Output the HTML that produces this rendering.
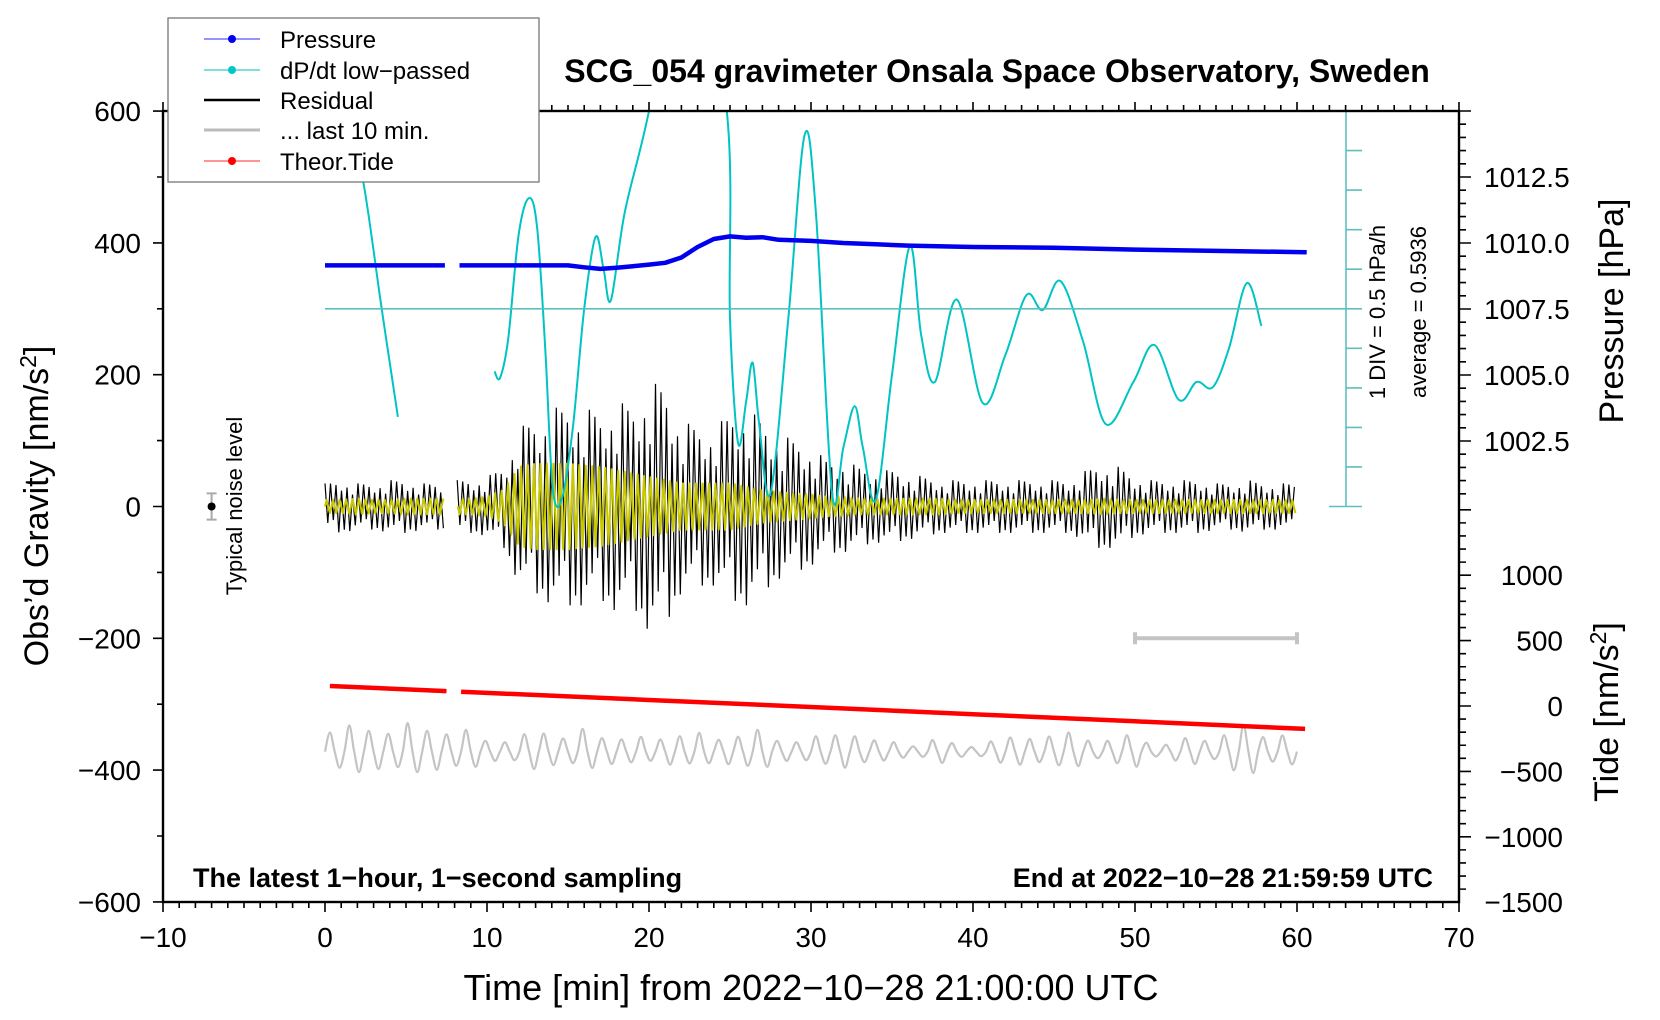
<!DOCTYPE html>
<html><head><meta charset="utf-8"><style>
html,body{margin:0;padding:0;background:#fff;}
svg{display:block;font-family:"Liberation Sans",sans-serif;}
</style></head><body>
<svg id="chart" width="1660" height="1020" viewBox="0 0 1660 1020">
<g id="marks"></g>
<g id="axes"></g>
<rect x="168" y="18" width="371" height="164" fill="#fff" stroke="#777" stroke-width="1.3"/>
<g font-size="24">
 <g><line x1="204" y1="39" x2="260" y2="39" stroke="#5555ff" stroke-width="1.2"/><circle cx="232" cy="39" r="4" fill="#0000ee"/><text x="280" y="48">Pressure</text></g>
 <g><line x1="204" y1="70" x2="260" y2="70" stroke="#33cccc" stroke-width="1.2"/><circle cx="232" cy="70" r="4" fill="#00c8c8"/><text x="280" y="79">dP/dt low−passed</text></g>
 <g><line x1="204" y1="100" x2="260" y2="100" stroke="#000" stroke-width="2.5"/><text x="280" y="109">Residual</text></g>
 <g><line x1="204" y1="130" x2="260" y2="130" stroke="#bbb" stroke-width="3"/><text x="280" y="139">... last 10 min.</text></g>
 <g><line x1="204" y1="161" x2="260" y2="161" stroke="#ff5555" stroke-width="1.2"/><circle cx="232" cy="161" r="4" fill="#ff0000"/><text x="280" y="170">Theor.Tide</text></g>
</g>
<text x="997" y="82" font-size="32" font-weight="bold" text-anchor="middle">SCG_054 gravimeter Onsala Space Observatory, Sweden</text>
<text transform="translate(48,506) rotate(-90)" font-size="34" text-anchor="middle">Obs’d Gravity [nm/s<tspan dy="-12" font-size="23">2</tspan><tspan dy="12">]</tspan></text>
<text transform="translate(1623,311) rotate(-90)" font-size="34" text-anchor="middle">Pressure [hPa]</text>
<text transform="translate(1618,712) rotate(-90)" font-size="34" text-anchor="middle">Tide [nm/s<tspan dy="-12" font-size="23">2</tspan><tspan dy="12">]</tspan></text>
<text transform="translate(1385,312) rotate(-90)" font-size="22" text-anchor="middle">1 DIV = 0.5 hPa/h</text>
<text transform="translate(1426,312) rotate(-90)" font-size="22" text-anchor="middle">average = 0.5936</text>
<text transform="translate(242,506) rotate(-90)" font-size="22" text-anchor="middle">Typical noise level</text>
<text x="193" y="887" font-size="27" font-weight="bold">The latest 1−hour, 1−second sampling</text>
<text x="1433" y="887" font-size="27" font-weight="bold" text-anchor="end">End at 2022−10−28 21:59:59 UTC</text>
<text x="811" y="1000" font-size="36" text-anchor="middle">Time [min] from 2022−10−28 21:00:00 UTC</text>
</svg>
<script>
// ---- data ----
const blackEnv=[35,40,35,35,40,40,35,35,40,40,45,60,120,130,150,150,150,140,160,150,190,180,130,120,120,140,150,130,110,100,90,70,70,60,55,55,50,45,40,40,40,40,40,40,40,40,40,55,65,60,45,40,40,40,40,35,35,40,35,35,35];
const yellowEnv=[10,10,12,10,10,12,12,12,12,12,15,25,60,65,65,65,62,60,55,50,45,40,35,35,35,35,30,25,22,20,18,15,14,12,12,12,12,12,12,10,10,10,10,10,10,10,10,10,12,10,10,10,10,10,10,10,10,10,10,10,10];
const grayEnv=[40,45,35,30,40,45,30,35,40,30,15,20,25,30,25,30,35,20,25,30,15,20,35,30,15,25,40,30,15,20,25,20,30,35,15,15,10,15,20,10,10,15,20,25,30,20,30,25,15,20,30,15,10,20,25,20,30,45,30,25,20];
const motif=[1,0.7,0.95,0.55,0.85,1,0.6,0.9,0.75,1,0.5,0.8];
const pressMin=[0,7.4,8.3,15,16,17,18,19,20,21,22,23,24,25,26,27,28,30,32,34,36,40,45,50,55,60.6];
const pressVal=[1009.15,1009.15,1009.15,1009.15,1009.08,1009.02,1009.06,1009.12,1009.18,1009.25,1009.45,1009.85,1010.15,1010.25,1010.2,1010.22,1010.12,1010.08,1010.0,1009.95,1009.9,1009.85,1009.82,1009.75,1009.7,1009.65];
const cyanSeg1Min=[0.8,1.5,2.35,3.5,4.5];
const cyanSeg1Val=[640,560,494,300,136];
const cyanSeg2Min=[10.46,10.8,11.3,11.96,12.6,13.1,13.6,14.05,14.6,15.3,16.0,16.7,17.2,17.65,18.5,20,22.4,24.8,25.0,25.5,26.0,26.4,26.8,27.5,28.6,29.6,30.3,31.3,32.0,32.7,33.2,34.0,35.0,36.1,36.8,37.65,39.0,40.6,42.0,43.3,44.3,45.4,46.8,48.2,49.9,51.2,52.7,53.8,54.8,55.8,56.9,57.8];
const cyanSeg2Val=[205,195,253,414,468,422,238,29,10,120,300,409,360,313,446,600,900,600,285,96,160,218,125,20,285,563,446,20,90,152,90,10,200,395,260,189,314,157,230,321,298,342,250,125,189,245,162,189,181,240,339,274];
const tideMin=[0.3,7.5,8.4,20,30,40,50,60.5];
const tideVal=[153,114,109,46,-8,-63,-117,-175];
const xTicks=[-10,0,10,20,30,40,50,60,70];
const yTicks=[-600,-400,-200,0,200,400,600];
const pTicks=[1002.5,1005.0,1007.5,1010.0,1012.5];
const tTicks=[-1500,-1000,-500,0,500,1000];
// ---- scales ----
const X=m=>325+m*16.2, Yg=g=>506.5-g*0.659, Yp=p=>243-(p-1010)*26.4, Yt=t=>706-t*0.1308;
const NS='http://www.w3.org/2000/svg';
const marks=document.getElementById('marks'), axes=document.getElementById('axes');
function mk(tag,attrs,parent){const e=document.createElementNS(NS,tag);for(const k in attrs)e.setAttribute(k,attrs[k]);(parent||marks).appendChild(e);return e;}
function env(arr,m){const i=Math.min(Math.floor(m),arr.length-2),f=m-i;return arr[i]*(1-f)+arr[i+1]*f;}
function inGap(m){return m>7.35&&m<8.1;}
function smoothPts(pts){let d='M'+pts[0][0].toFixed(1)+' '+pts[0][1].toFixed(1);for(let i=0;i<pts.length-1;i++){const p0=pts[Math.max(i-1,0)],p1=pts[i],p2=pts[i+1],p3=pts[Math.min(i+2,pts.length-1)];d+='C'+(p1[0]+(p2[0]-p0[0])/6).toFixed(1)+' '+(p1[1]+(p2[1]-p0[1])/6).toFixed(1)+' '+(p2[0]-(p3[0]-p1[0])/6).toFixed(1)+' '+(p2[1]-(p3[1]-p1[1])/6).toFixed(1)+' '+p2[0].toFixed(1)+' '+p2[1].toFixed(1);}return d;}
const defs=mk('defs',{});const cp=mk('clipPath',{id:'plotclip'},defs);mk('rect',{x:163,y:111,width:1296,height:791},cp);
marks.setAttribute('clip-path','url(#plotclip)');
// gray last 10 min curve
let gp=[],k=0;
for(let m=0;m<=60;m+=0.3){const ph=[0,1,0,-1][k%4];gp.push([X(m),Yg(-372+ph*env(grayEnv,m)*motif[k%12])]);k++;}
let g=mk('path',{d:smoothPts(gp),fill:'none',stroke:'#c4c4c4','stroke-width':2.2});


// residual black
let bd='',pen=false;k=0;
for(let m=0;m<=60;m+=0.17){if(inGap(m)){pen=false;k++;continue;}const s=(k%2?-1:1);const v=s*env(blackEnv,m)*motif[k%12];bd+=(pen?'L':'M')+X(m).toFixed(1)+' '+Yg(v).toFixed(1);pen=true;k++;}
g=mk('path',{d:bd,fill:'none',stroke:'#000','stroke-width':1.2});


// yellow
let yd='';pen=false;k=0;
for(let m=0;m<=60;m+=0.1){if(inGap(m)){pen=false;k++;continue;}const ph=[0,1,0,-1][k%4];const v=ph*env(yellowEnv,m);yd+=(pen?'L':'M')+X(m).toFixed(1)+' '+Yg(v).toFixed(1);pen=true;k++;}
g=mk('path',{d:yd,fill:'none',stroke:'#c8c800','stroke-width':2,'stroke-linejoin':'round'});


// cyan
function cyanPath(ms,vs){return smoothPts(ms.map((m,i)=>[X(m),Yg(vs[i])]));}
g=mk('path',{d:cyanPath(cyanSeg1Min,cyanSeg1Val),fill:'none',stroke:'#00c4c4','stroke-width':2});


g=mk('path',{d:cyanPath(cyanSeg2Min,cyanSeg2Val),fill:'none',stroke:'#00c4c4','stroke-width':2});


// pressure
let pd='';
for(let i=0;i<pressMin.length;i++){const st=(i>0&&pressMin[i-1]===7.4);pd+=(st||i===0?'M':'L')+X(pressMin[i]).toFixed(1)+' '+Yp(pressVal[i]).toFixed(1);}
g=mk('path',{d:pd,fill:'none',stroke:'#0000ee','stroke-width':4.5,'stroke-linejoin':'round'});


// tide
let td='';
for(let i=0;i<tideMin.length;i++){const st=(i>0&&tideMin[i-1]===7.5);td+=(st||i===0?'M':'L')+X(tideMin[i]).toFixed(1)+' '+Yt(tideVal[i]).toFixed(1);}
g=mk('path',{d:td,fill:'none',stroke:'#ff0000','stroke-width':4.5});


// 10-min bar
g=mk('path',{d:`M${X(50)} ${Yg(-200)}H${X(60)}M${X(50)} ${Yg(-200)-6}V${Yg(-200)+6}M${X(60)} ${Yg(-200)-6}V${Yg(-200)+6}`,stroke:'#c4c4c4','stroke-width':4,fill:'none'});


// noise marker
g=mk('path',{d:`M${X(-7)} ${Yg(20)}V${Yg(-20)}M${X(-7)-5} ${Yg(20)}h10M${X(-7)-5} ${Yg(-20)}h10`,stroke:'#aaa','stroke-width':2,fill:'none'});


g=mk('circle',{cx:X(-7),cy:Yg(0),r:4,fill:'#000'});


// cyan reference axis
const cb=Yg(0);
let cd=`M${X(0)} ${Yg(300)}H1362M1346 111V${cb}M1329 111H1362M1329 ${cb}H1362`;
for(let i=1;i<10;i++){const y=111+(cb-111)*i/10;cd+=`M1346 ${y.toFixed(1)}H1362`;}
g=mk('path',{d:cd,stroke:'#5fbfbf','stroke-width':1.6,fill:'none'},axes);


// frame & ticks
g=mk('rect',{x:163,y:111,width:1296,height:791,fill:'none',stroke:'#000','stroke-width':2.4},axes);


let tk='';
for(let m=-10;m<=70;m++){const L=(m%10===0)?10:6;tk+=`M${X(m)} 902v${L}M${X(m)} 111v-${m%10===0?9:6}`;}
for(let v=-600;v<=600;v+=100){const L=(v%200===0)?10:6;tk+=`M163 ${Yg(v)}h-${L}`;}
for(let p=1000;p<=1015;p+=0.5){const y=Yp(p);if(y<111||y>cb)continue;const L=(Math.abs(p%2.5)<1e-6)?12:7;tk+=`M1459 ${y}h${L}`;}
for(let t=-1500;t<=1500;t+=100){const y=Yt(t);if(y<cb||y>902)continue;const L=(t%500===0)?12:7;tk+=`M1459 ${y}h${L}`;}
g=mk('path',{d:tk,stroke:'#000','stroke-width':1.6,fill:'none'},axes);


xTicks.forEach(v=>{const t=mk('text',{x:X(v),y:947,'font-size':28,'text-anchor':'middle'},axes);t.textContent=String(v).replace('-','−');

});
yTicks.forEach(v=>{const t=mk('text',{x:141,y:Yg(v)+10,'font-size':28,'text-anchor':'end'},axes);t.textContent=String(v).replace('-','−');

});
pTicks.forEach(v=>{const t=mk('text',{x:1484,y:Yp(v)+10,'font-size':28},axes);t.textContent=v.toFixed(1);

});
tTicks.forEach(v=>{const t=mk('text',{x:1563,y:Yt(v)+10,'font-size':28,'text-anchor':'end'},axes);t.textContent=String(v).replace('-','−');

});
</script>
</body></html>
